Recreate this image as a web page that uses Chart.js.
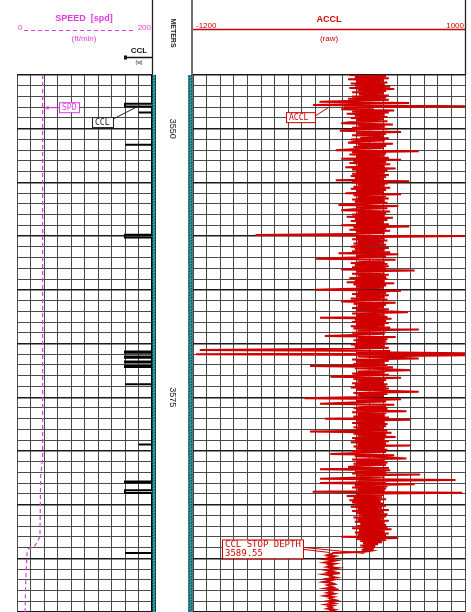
<!DOCTYPE html>
<html>
<head>
<meta charset="utf-8">
<script src="https://cdn.jsdelivr.net/npm/chart.js@4.4.0/dist/chart.umd.min.js"></script>
<style>
  html, body { margin: 0; padding: 0; background: #fff; }
  #wrap { position: relative; width: 471px; height: 612px; overflow: hidden; background: #fff; }
  #left { position: absolute; left: 0; top: 0; }
  #right { position: absolute; left: 156px; top: 0; }
</style>
</head>
<body>
<div id="wrap">
  <canvas id="left" width="156" height="612"></canvas>
  <canvas id="right" width="315" height="612"></canvas>
</div>
<script>
// depth window (meters)
const depthTop = 3545;
const depthBottom = 3595;
const depthLabels = [3550, 3575];
const stopDepth = 3589.55;

// speed track
const spdDepth = [3545, 3580.6, 3582.4, 3588.0, 3588.8, 3589.1, 3589.5, 3592, 3595];
const spdValue = [38, 38, 35, 34, 27, 17, 15, 13, 12];

// CCL collar kicks
const cclDepth = [3547.8, 3548.5, 3551.5, 3560.0, 3570.8, 3571.27, 3571.72, 3572.14, 3573.8, 3579.4, 3582.9, 3583.8, 3589.5];
const cclAmp   = [2, 1, 2, 2, 2, 2, 2, 2, 2, 1, 2, 2, 2];
const cclSpan  = [0.25, 0, 0, 0.25, 0.1, 0.1, 0.1, 0.1, 0, 0, 0.1, 0.25, 0];

// ACCL raw, one sample every 0.1 m from 3545.0
const acclStep = 0.1;
const accl = [
  150, 420, 190, 440, 140, 400, 200, 430, 160, 410,
  190, 450, 150, 480, 210, 420, 170, 400, 220, 440,
  170, 420, 140, 440, 200, -70, 590, 230, -118, 1000,
  110, 330, 90, 480, 170, 440, 130, 410, 190, 430,
  160, 400, 200, 430, 150, 90, 470, 210, 410, 170,
  430, 150, 80, 530, 200, 420, 170, 400, 230, 440,
  160, 410, 200, 140, 470, 210, 420, 180, 400, 200,
  50, 660, 170, 420, 150, 410, 200, 440, 90, 530,
  180, 420, 150, 450, 210, 410, 120, 490, 170, 430,
  200, 410, 170, 440, 160, 420, 190, 400, 50, 590,
  170, 430, 210, 410, 180, 450, 160, 420, 200, 400,
  120, 530, 180, 420, 210, 440, 170, 410, 190, 430,
  160, 70, 510, 200, 430, 180, 90, 450, 210, 420,
  170, 410, 130, 470, 190, 430, 160, 400, 200, 440,
  90, 590, 180, 420, 150, 450, 200, 410, 170, -540,
  1000, 200, 410, 170, 430, 210, 400, 180, 420, 220,
  160, 440, 190, 410, 170, 450, 70, 510, 200, 420,
  180, -100, 490, 210, 410, 160, 430, 190, 440, 170,
  420, 90, 630, 200, 410, 170, 440, 210, 420, 150,
  430, 190, 410, 130, 480, 180, 420, 200, 400, 170,
  -100, 530, 210, 420, 170, 440, 200, 410, 160, 430,
  190, 90, 490, 180, 420, 210, 400, 170, 440, 200,
  420, 580, 170, 410, 200, 430, -66, 460, 190, 420,
  170, 440, 200, 410, 160, 450, 180, 660, 210, 420,
  170, 410, 190, -30, 490, 210, 430, 180, 420, 200,
  430, 160, 410, 190, 440, 170, -950, 450, 200, 1000,
  -978, 1000, 210, 420, 660, 170, 440, 200, 410, 180,
  430, -140, 470, 190, 420, 600, 210, 410, 170, 440,
  200, 10, 530, 180, 420, 210, 400, 170, 430, 190,
  420, 160, 440, 200, 410, 660, 180, 430, 210, 400,
  170, -180, 530, 200, 420, 170, -66, 480, 210, 420,
  180, 430, 200, 570, 170, 420, 210, 410, 180, 440,
  -30, 600, 200, 410, 170, 430, 210, 420, 180, 400,
  200, 430, -140, 460, 180, 420, 210, 490, 170, 410,
  190, 440, 160, 420, 210, 600, 180, 410, 200, 430,
  170, 420, 210, 10, 480, 190, 420, 570, 170, 410,
  200, 430, 180, 420, 210, 140, 440, -66, 450, 190,
  420, 170, 670, 200, 410, 180, -66, 930, 210, 420,
  -66, 630, 190, 430, 170, 420, 210, 410, -120, 980,
  200, 400, 130, 390, 180, 420, 150, 380, 170, 400,
  190, 420, 160, 390, 210, 440, 170, 400, 200, 430,
  220, 420, 180, 400, 210, 440, 190, 410, 230, 420,
  200, 430, 170, 460, 220, 410, 190, 440, 210, 420,
  90, 510, 200, 420, 230, 390, 250, 360, 230, 340,
  250, 330, 240, 310, 260, 30,
  // below CCL stop depth
  20, -10, 40, 0, 30, -20, 50, 10, -30, 40,
  0, 20, -10, 60, 10, -20, 30, 0, 80, -30,
  20, 10, 50, -10, 30, 0, -40, 20, 40, -10,
  10, 30, -20, 70, 0, 20, -10, 40, 10, -30,
  30, 0, 20, 50, -10, 10, 40, -20, 30, 0,
  20, -10, 40, 10, 0
];

const MAGENTA = '#e03ce0';
const RED = '#d00000';
const GRID = '#4a4a4a';
const GRID_HEAVY = '#1a1a1a';

function depthGrid() {
  return {
    color: c => (c.tick && c.tick.value % 5 === 0) ? GRID_HEAVY : GRID,
    lineWidth: c => (c.tick && c.tick.value % 5 === 0) ? 1.4 : 1,
    drawTicks: false
  };
}

function line(ctx, x1, y1, x2, y2) {
  ctx.beginPath(); ctx.moveTo(x1, y1); ctx.lineTo(x2, y2); ctx.stroke();
}

function drawStrip(ctx, x, top, w, h) {
  ctx.save();
  ctx.fillStyle = '#2bb6b6';
  ctx.fillRect(x, top, w, h);
  ctx.strokeStyle = '#0c4c52';
  ctx.lineWidth = 0.8;
  ctx.beginPath();
  for (let y = top; y < top + h; y += 3) { ctx.moveTo(x, y + 2); ctx.lineTo(x + w, y); }
  ctx.stroke();
  ctx.strokeStyle = '#123';
  line(ctx, x + 0.4, top, x + 0.4, top + h);
  line(ctx, x + w - 0.4, top, x + w - 0.4, top + h);
  ctx.restore();
}

function drawBox(ctx, x, y, w, h, color, lines, size) {
  ctx.save();
  ctx.fillStyle = '#fff';
  ctx.fillRect(x, y, w, h);
  ctx.strokeStyle = color;
  ctx.lineWidth = 1;
  ctx.strokeRect(x + 0.5, y + 0.5, w, h);
  ctx.fillStyle = color;
  ctx.font = (size || 8) + 'px "DejaVu Sans Mono"';
  ctx.textAlign = 'left';
  ctx.textBaseline = 'middle';
  lines.forEach((t, i) => ctx.fillText(t, x + 3, y + 5.5 + i * 9));
  ctx.restore();
}

const leftDecor = {
  id: 'leftDecor',
  afterDraw(chart) {
    const ctx = chart.ctx, ca = chart.chartArea;
    const sx = chart.scales.x, sy = chart.scales.y, sc = chart.scales.xCcl;
    ctx.save();
    drawStrip(ctx, ca.right, ca.top, 4, ca.bottom - ca.top);
    ctx.strokeStyle = '#222'; ctx.lineWidth = 1.3;
    line(ctx, ca.right + 0.5, 0, ca.right + 0.5, ca.top);

    // speed header
    ctx.fillStyle = MAGENTA;
    ctx.textAlign = 'center'; ctx.textBaseline = 'alphabetic';
    ctx.font = 'bold 9px "Liberation Sans"';
    ctx.fillText('SPEED  [spd]', 84, 21);
    ctx.font = '8px "Liberation Sans"';
    ctx.fillText('(ft/min)', 84, 41);
    ctx.textAlign = 'left'; ctx.fillText('0', 18, 30);
    ctx.textAlign = 'right'; ctx.fillText('200', 151, 30);
    ctx.strokeStyle = MAGENTA; ctx.lineWidth = 1; ctx.setLineDash([4, 3]);
    line(ctx, 24, 30.5, 134, 30.5);
    ctx.setLineDash([]);

    // ccl header
    ctx.fillStyle = '#111'; ctx.strokeStyle = '#111';
    ctx.textAlign = 'center';
    ctx.font = 'bold 8px "Liberation Sans"';
    ctx.fillText('CCL', 139, 53);
    ctx.lineWidth = 1.5;
    line(ctx, sc.getPixelForValue(2), 57.5, ca.right, 57.5);
    ctx.fillRect(sc.getPixelForValue(2) - 1, 55.5, 3, 4);
    ctx.font = '5px "Liberation Sans"';
    ctx.fillText('(w)', 139, 64);

    // SPD annotation
    const tipY = sy.getPixelForValue(3548.0);
    const tipX = sx.getPixelForValue(spdValue[0]) + 2;
    drawBox(ctx, 59, tipY - 5, 20, 10, MAGENTA, ['SPD']);
    ctx.strokeStyle = MAGENTA; ctx.fillStyle = MAGENTA; ctx.lineWidth = 1;
    line(ctx, 59, tipY + 0.5, tipX, tipY + 0.5);
    ctx.beginPath(); ctx.moveTo(tipX, tipY + 0.5); ctx.lineTo(tipX + 4, tipY - 1.5); ctx.lineTo(tipX + 4, tipY + 2.5); ctx.fill();

    // CCL annotation
    const cy = sy.getPixelForValue(cclDepth[0]);
    drawBox(ctx, 92, cy + 12, 21, 10, '#222', ['CCL']);
    ctx.strokeStyle = '#222'; ctx.lineWidth = 1;
    line(ctx, 113, cy + 14, sc.getPixelForValue(cclAmp[0] / 2), cy + 1);
    ctx.restore();
  }
};

const rightDecor = {
  id: 'rightDecor',
  afterDraw(chart) {
    const ctx = chart.ctx, ca = chart.chartArea;
    const sx = chart.scales.x, sy = chart.scales.y;
    ctx.save();
    drawStrip(ctx, ca.left - 4.5, ca.top, 4, ca.bottom - ca.top);
    ctx.strokeStyle = '#222'; ctx.lineWidth = 1.3;
    line(ctx, ca.left - 1, 0, ca.left - 1, ca.top);
    line(ctx, ca.right + 0.5, 0, ca.right + 0.5, ca.top);

    // depth column
    ctx.fillStyle = '#222';
    ctx.textAlign = 'center'; ctx.textBaseline = 'middle';
    ctx.font = 'bold 7px "Liberation Sans"';
    ctx.save(); ctx.translate(17, 33); ctx.rotate(Math.PI / 2); ctx.fillText('METERS', 0, 0); ctx.restore();
    ctx.font = '9px "Liberation Sans"';
    depthLabels.forEach(d => {
      ctx.save(); ctx.translate(16, sy.getPixelForValue(d)); ctx.rotate(Math.PI / 2);
      ctx.fillText(String(d), 0, 0); ctx.restore();
    });

    // accl header
    ctx.fillStyle = RED; ctx.strokeStyle = RED;
    ctx.textBaseline = 'alphabetic';
    ctx.font = 'bold 9px "Liberation Sans"';
    ctx.textAlign = 'center';
    ctx.fillText('ACCL', sx.getPixelForValue(0), 22);
    ctx.font = '8px "Liberation Sans"';
    ctx.fillText('(raw)', sx.getPixelForValue(0), 41);
    ctx.textAlign = 'left'; ctx.fillText('-1200', ca.left + 3, 28);
    ctx.textAlign = 'right'; ctx.fillText('1000', ca.right - 1, 28);
    ctx.lineWidth = 1.3;
    line(ctx, ca.left, 29.5, ca.right, 29.5);

    // ACCL annotation
    const ay = sy.getPixelForValue(3547.9);
    drawBox(ctx, 130, ay + 6, 29, 10, RED, ['ACCL']);
    ctx.strokeStyle = RED; ctx.lineWidth = 1;
    line(ctx, 159, ay + 10, sx.getPixelForValue(0), ay + 1);

    // stop depth annotation
    const sdy = sy.getPixelForValue(stopDepth);
    drawBox(ctx, 66, sdy - 14, 81, 19, RED, ['CCL STOP DEPTH', stopDepth.toFixed(2)], 9);
    ctx.strokeStyle = RED; ctx.lineWidth = 1;
    line(ctx, 148, sdy - 6, sx.getPixelForValue(260), sdy);
    line(ctx, 148, sdy - 4, sx.getPixelForValue(0), sdy - 1);
    ctx.restore();
  }
};

const cclPoints = [{ x: 0, y: depthTop }];
cclDepth.forEach((d, i) => {
  const h = cclSpan[i] / 2;
  cclPoints.push({ x: 0, y: d - h }, { x: cclAmp[i], y: d - h }, { x: cclAmp[i], y: d + h }, { x: 0, y: d + h });
});
cclPoints.push({ x: 0, y: depthBottom });

const depthAxis = {
  type: 'linear', min: depthTop, max: depthBottom, reverse: true,
  ticks: { stepSize: 1, display: false },
  grid: depthGrid(),
  border: { display: false }
};

new Chart(document.getElementById('left'), {
  type: 'scatter',
  data: {
    datasets: [
      {
        label: 'SPD',
        data: spdDepth.map((d, i) => ({ x: spdValue[i], y: d })),
        xAxisID: 'x',
        showLine: true, borderColor: MAGENTA, borderWidth: 1.2, borderDash: [4, 3], pointRadius: 0
      },
      {
        label: 'CCL',
        data: cclPoints,
        xAxisID: 'xCcl',
        showLine: true, borderColor: '#000', borderWidth: 2, pointRadius: 0
      }
    ]
  },
  options: {
    responsive: false, animation: false,
    layout: { padding: { left: 17, right: 4, top: 75, bottom: 0 } },
    plugins: { legend: { display: false }, tooltip: { enabled: false } },
    scales: {
      x: {
        type: 'linear', min: 0, max: 200,
        ticks: { stepSize: 20, display: false },
        grid: { color: GRID, lineWidth: 1, drawTicks: false },
        border: { display: false }
      },
      xCcl: { type: 'linear', axis: 'x', min: 0, max: 10, reverse: true, display: false },
      y: depthAxis
    }
  },
  plugins: [leftDecor]
});

new Chart(document.getElementById('right'), {
  type: 'scatter',
  data: {
    datasets: [{
      label: 'ACCL',
      data: accl.map((v, i) => ({ x: v, y: depthTop + i * acclStep })),
      showLine: true, borderColor: RED, borderWidth: 2, pointRadius: 0
    }]
  },
  options: {
    responsive: false, animation: false,
    layout: { padding: { left: 37, right: 6, top: 75, bottom: 0 } },
    plugins: { legend: { display: false }, tooltip: { enabled: false } },
    scales: {
      x: {
        type: 'linear', min: -1000, max: 1000,
        ticks: { stepSize: 100, display: false },
        grid: { color: GRID, lineWidth: 1, drawTicks: false },
        border: { display: false }
      },
      y: Object.assign({}, depthAxis, { grid: depthGrid() })
    }
  },
  plugins: [rightDecor]
});
</script>
</body>
</html>
